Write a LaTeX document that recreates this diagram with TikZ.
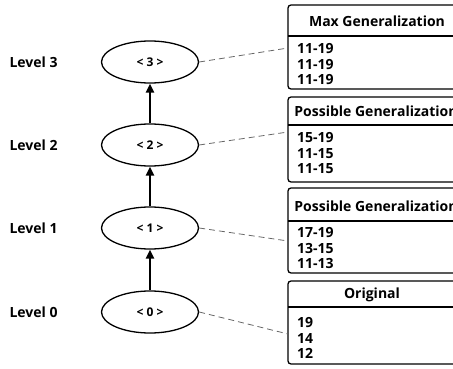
\documentclass[tikz,border=0pt]{standalone}
\usepackage{fontspec}
\setmainfont{Open Sans}
\usetikzlibrary{shapes.geometric,arrows.meta}
\tikzset{
  lvl/.style={anchor=west, font=\bfseries\fontsize{14}{16}\selectfont},
  state/.style={draw, ellipse, line width=1.3pt, minimum width=97pt, minimum height=42pt, inner sep=0pt, font=\bfseries\fontsize{12}{14}\selectfont},
  gen/.style={line width=2.4pt, -{Triangle[length=9pt,width=8pt]}},
  link/.style={dashed, gray!80!black, line width=0.8pt, dash pattern=on 6pt off 4pt},
  table/.style={line width=1.3pt, rounded corners=3pt},
  head/.style={font=\bfseries\fontsize{14}{16}\selectfont},
  body/.style={anchor=north west, align=left, inner sep=0pt, font=\bfseries\fontsize{14}{15.8}\selectfont}
}
\begin{document}
\begin{tikzpicture}[x=1pt,y=-1pt]
    \clip (0,0) rectangle (453,369);

    % levels
    \node[lvl] (l3) at (6,62) {Level 3};
    \node[lvl] (l2) at (6,145) {Level 2};
    \node[lvl] (l1) at (6,228) {Level 1};
    \node[lvl] (l0) at (6,312) {Level 0};

    % lattice
    \node[state] (s3) at (150,62) {< 3 >};
    \node[state] (s2) at (150,145) {< 2 >};
    \node[state] (s1) at (150,228) {< 1 >};
    \node[state] (s0) at (150,312) {< 0 >};
    \draw[gen] (s0) -- (s1);
    \draw[gen] (s1) -- (s2);
    \draw[gen] (s2) -- (s3);

    % tables
    \draw[table] (288,5) rectangle (462,89);
    \draw[line width=1.3pt] (288,36) -- (462,36);
    \node[head] (h3) at (377,21) {Max Generalization};
    \node[body] (b3) at (297,43) {11-19\\11-19\\11-19};

    \draw[table] (288,97) rectangle (462,182);
    \draw[line width=1.3pt] (288,125) -- (462,125);
    \node[head] (h2) at (376,111) {Possible Generalization};
    \node[body] (b2) at (297,132) {15-19\\11-15\\11-15};

    \draw[table] (288,188) rectangle (462,273);
    \draw[line width=1.3pt] (288,221) -- (462,221);
    \node[head] (h1) at (376,206) {Possible Generalization};
    \node[body] (b1) at (297,227) {17-19\\13-15\\11-13};

    \draw[table] (288,281) rectangle (462,364);
    \draw[line width=1.3pt] (288,307) -- (462,307);
    \node[head] (h0) at (372,295) {Original};
    \node[body] (b0) at (297,317) {19\\14\\12};

    % links
    \coordinate (t3) at (288,48);
    \coordinate (t2) at (288,132);
    \coordinate (t1) at (288,241);
    \coordinate (t0) at (288,334);
    \draw[link] (s3.east) -- (t3);
    \draw[link] (s2.east) -- (t2);
    \draw[link] (s1.east) -- (t1);
    \draw[link] (s0.east) -- (t0);
\end{tikzpicture}
\end{document}
